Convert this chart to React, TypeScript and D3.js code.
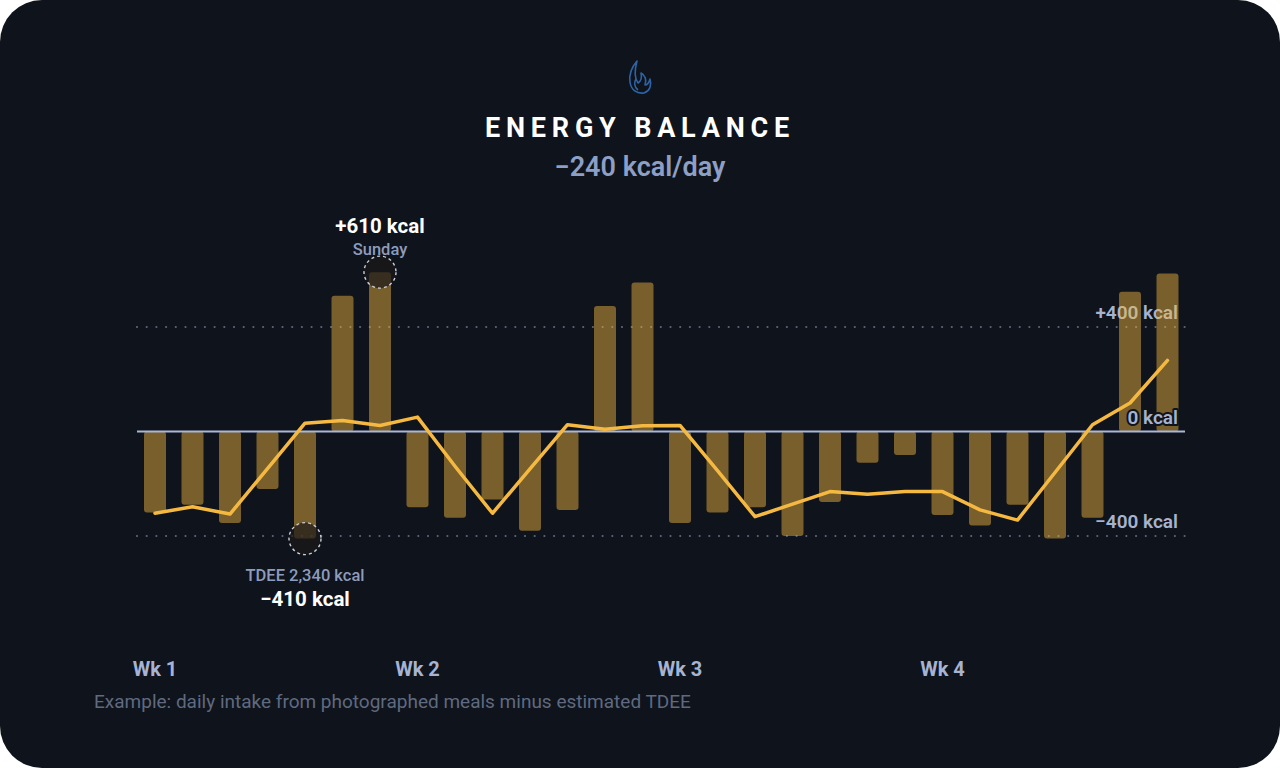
import { useMemo } from "react";
import * as d3 from "d3";

const W = 1280;
const H = 768;

// daily balance (intake − TDEE), kcal, 4 weeks
const balance = [
  -310, -280, -350, -220, -410, 520, 610,
  -290, -330, -260, -380, -300, 480, 570,
  -350, -310, -290, -400, -270, -120, -90,
  -320, -360, -280, -410, -330, 535, 605,
];
// smoothed trend line, kcal
const trend = [
  -313, -288, -316, -142, 32, 42, 23,
  55, -133, -313, -143, 26, 9, 22,
  23, -150, -326, -278, -230, -240, -230,
  -230, -300, -339, -157, 26, 109, 272,
];
const weekLabels = ["Wk 1", "Wk 2", "Wk 3", "Wk 4"];
const gridValues = [400, -400];
const gridLabels = ["+400 kcal", "−400 kcal"];

const FONT = "Roboto, 'DejaVu Sans', sans-serif";
const GOLD = "#f5b942";
const BG = "#0f131b";
const LABEL = "#a6b3cf";

export default function App() {
  const x = useMemo(
    () =>
      d3
        .scaleBand<number>()
        .domain(d3.range(balance.length))
        .range([136.25, 1186.25])
        .paddingInner(0.413)
        .paddingOuter(0.2065),
    []
  );
  const y = useMemo(() => d3.scaleLinear().domain([-400, 400]).range([536, 327]), []);
  const cx = (i: number) => (x(i) ?? 0) + x.bandwidth() / 2;

  const linePath =
    d3
      .line<number>()
      .x((_, i) => cx(i))
      .y((d) => y(d))(trend) ?? "";

  const x0 = 137;
  const x1 = 1185;
  const peakIdx = balance.indexOf(d3.max(balance)!);
  const lowIdx = 4;

  return (
    <svg
      width={W}
      height={H}
      style={{ position: "absolute", left: 0, top: 0, display: "block", background: "#fff" }}
      fontFamily={FONT}
    >
      <rect x={0} y={0} width={W} height={H} rx={42} fill={BG} />

      {/* flame icon */}
      <g transform="translate(640,78)" fill="none" stroke="#2d64a8" strokeWidth={1.6} strokeLinejoin="round">
        <path d="M-3,-17 C-9,-10 -11,-3 -10,4 C-9,12 -3,16 4,15 C10,13 12,7 10,1 C9,5 7,7 5,7 C7,2 5,-3 1,-5 C2,-1 1,3 -2,5 C-5,1 -6,-6 -3,-17 Z" />
        <path d="M-2,12 C-6,9 -6,4 -4,1" />
      </g>

      <text x={640} y={137} textAnchor="middle" fill="#fff" fontSize={27} fontWeight={700} letterSpacing={5.8}>
        ENERGY BALANCE
      </text>
      <text x={640} y={176} textAnchor="middle" fill="#8c9fc6" fontSize={27} fontWeight={600}>
        −240 kcal/day
      </text>

      {/* dotted reference lines */}
      {gridValues.map((v) => (
        <line
          key={v}
          x1={x0}
          x2={x1}
          y1={y(v)}
          y2={y(v)}
          stroke="#5d6679"
          strokeWidth={2.2}
          strokeLinecap="round"
          strokeDasharray="0 9.7"
        />
      ))}
      {gridValues.map((v, i) => (
        <text
          key={v}
          x={1178}
          y={y(v) - 8}
          textAnchor="end"
          fill={LABEL}
          fontSize={19}
          fontWeight={600}
        >
          {gridLabels[i]}
        </text>
      ))}

      {/* bars */}
      {balance.map((v, i) => (
        <rect
          key={i}
          x={x(i)}
          y={Math.min(y(v), y(0))}
          width={x.bandwidth()}
          height={Math.abs(y(v) - y(0))}
          rx={3}
          fill={GOLD}
          fillOpacity={0.46}
        />
      ))}

      <line x1={x0} x2={x1} y1={y(0)} y2={y(0)} stroke="#a9b8d8" strokeWidth={2} />

      <path d={linePath} fill="none" stroke={GOLD} strokeWidth={3.5} strokeLinejoin="round" strokeLinecap="round" />

      <text
        x={1178}
        y={y(0) - 8}
        textAnchor="end"
        fill={LABEL}
        fontSize={19}
        fontWeight={600}
        stroke={BG}
        strokeWidth={4}
        strokeLinejoin="round"
        paintOrder="stroke"
      >
        0 kcal
      </text>

      {/* annotations */}
      <circle
        cx={cx(peakIdx)}
        cy={y(balance[peakIdx])}
        r={16}
        fill="#1b1a1a"
        fillOpacity={0.7}
        stroke="#c9ced8"
        strokeWidth={1.4}
        strokeDasharray="3 3"
      />
      <text x={cx(peakIdx)} y={233} textAnchor="middle" fill="#fff" fontSize={20.5} fontWeight={700}>
        +610 kcal
      </text>
      <text x={cx(peakIdx)} y={255} textAnchor="middle" fill="#8d9cbc" fontSize={16.5} fontWeight={500}>
        Sunday
      </text>

      <circle
        cx={cx(lowIdx)}
        cy={y(balance[lowIdx])}
        r={16}
        fill="#1b1a1a"
        fillOpacity={0.7}
        stroke="#c9ced8"
        strokeWidth={1.4}
        strokeDasharray="3 3"
      />
      <text x={cx(lowIdx)} y={581} textAnchor="middle" fill="#8d9cbc" fontSize={16.5} fontWeight={500}>
        TDEE 2,340 kcal
      </text>
      <text x={cx(lowIdx)} y={606} textAnchor="middle" fill="#fff" fontSize={20.5} fontWeight={700}>
        −410 kcal
      </text>

      {/* week labels */}
      {weekLabels.map((w, k) => (
        <text key={w} x={cx(k * 7)} y={676} textAnchor="middle" fill="#a6b3d3" fontSize={20} fontWeight={700}>
          {w}
        </text>
      ))}

      <text x={94} y={708} fill="#5f6a80" fontSize={19}>
        Example: daily intake from photographed meals minus estimated TDEE
      </text>
    </svg>
  );
}
